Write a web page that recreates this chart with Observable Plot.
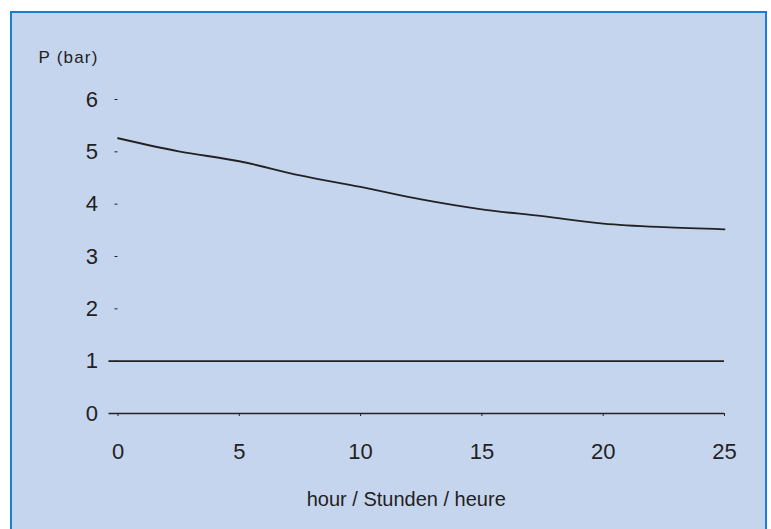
<!DOCTYPE html>
<html>
<head>
<meta charset="utf-8">
<script src="https://cdn.jsdelivr.net/npm/d3@7"></script>
<script src="https://cdn.jsdelivr.net/npm/@observablehq/plot@0.6"></script>
<style>
  html, body { margin: 0; padding: 0; background: #ffffff; }
  #wrap { position: relative; width: 771px; height: 529px; overflow: hidden; }
  #box { position: absolute; left: 10px; top: 11px; width: 753px; height: 540px;
         border: 2px solid #1b7fd1; background: #c6d5ee; }
  #chart { position: absolute; left: 0; top: 0; }
  .ylab text { letter-spacing: 1.2px; }
</style>
</head>
<body>
<div id="wrap">
  <div id="box"></div>
  <div id="chart"></div>
</div>
<script>
// Data
const hours    = [0, 2.5, 5, 7.5, 10, 12.5, 15, 17.5, 20, 22.5, 25];
const pressure = [5.26, 5.01, 4.82, 4.55, 4.33, 4.09, 3.90, 3.77, 3.63, 3.56, 3.52];
const refLines = [0, 1];
const xTicks = [0, 5, 10, 15, 20, 25];
const yTicks = [0, 1, 2, 3, 4, 5, 6];
const yLabel = "P (bar)";
const xLabel = "hour / Stunden / heure";

const series = hours.map((h, i) => ({hour: h, p: pressure[i]}));
const ink = "#222222";

const plot = Plot.plot({
  width: 771,
  height: 529,
  marginLeft: 117.5,
  marginRight: 47,
  marginTop: 99,
  marginBottom: 116,
  style: {background: "transparent", color: ink, fontFamily: "'Liberation Sans', Arial, sans-serif"},
  x: {domain: [0, 25]},
  y: {domain: [0, 6]},
  marks: [
    Plot.ruleY(refLines, {stroke: ink, strokeWidth: 1.6, insetLeft: -9}),
    Plot.axisX({ticks: xTicks, tickFormat: "d", tickSize: 3, tickPadding: 27, fontSize: 22, label: null, stroke: ink}),
    Plot.axisY({ticks: yTicks, tickFormat: "d", tickSize: 3, tickPadding: 17, fontSize: 22, label: null, stroke: ink}),
    Plot.line(series, {x: "hour", y: "p", stroke: ink, strokeWidth: 1.8, curve: "monotone-x"}),
    Plot.text([yLabel], {frameAnchor: "top-left", textAnchor: "start", lineAnchor: "middle",
                         dx: -79.5, dy: -42, fontSize: 17, fill: ink, className: "ylab"}),
    Plot.text([xLabel], {frameAnchor: "bottom", lineAnchor: "middle", dx: -15, dy: 86,
                         fontSize: 20, fill: ink})
  ]
});
document.getElementById("chart").appendChild(plot);
</script>
</body>
</html>
